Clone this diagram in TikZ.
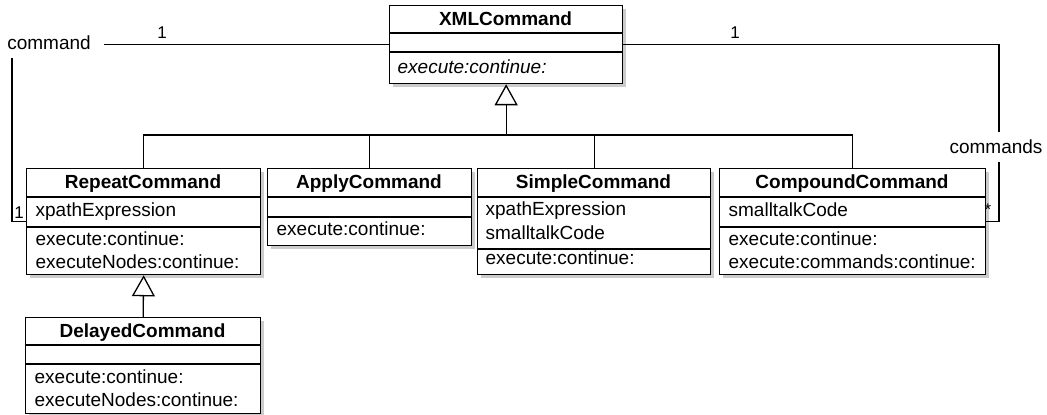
\documentclass[tikz,border=0pt]{standalone}
\usepackage{fontspec}
\setmainfont{Liberation Sans}
\usetikzlibrary{arrows.meta,shadows}

% class box: name, left x, top y, right x, bottom y
\newcommand\umlbox[5]{%
  \node[classbox, minimum width={(#4-#2)*0.5pt}, minimum height={(#5-#3)*0.5pt}]
    (#1) at (#2,#3) {};}
% compartment separator inside a class box at height #2
\newcommand\umlsep[2]{\draw (#1.west |- 0,#2) -- (#1.east |- 0,#2);}

\begin{document}
\begin{tikzpicture}[x=0.5pt, y=-0.5pt, line width=0.65pt,
  font=\fontsize{9.5}{11.5}\selectfont,
  classbox/.style={draw, fill=white, inner sep=0, anchor=north west,
    drop shadow={shadow xshift=1.5pt, shadow yshift=-1.5pt, opacity=0.4}},
  classname/.style={font=\fontsize{9.5}{11.5}\selectfont\bfseries, inner sep=0, anchor=base},
  member/.style={inner sep=0, anchor=mid west},
  mult/.style={inner sep=0, font=\fontsize{8.5}{10}\selectfont},
  role/.style={fill=white, inner sep=0},
  inherit/.style={-{Triangle[open, length=10.5pt, width=11.5pt]}}]

\fill[white] (0,0) rectangle (1047,415);
\useasboundingbox (0,0) rectangle (1047,415);

% ---- classes ----
\umlbox{xml}{389}{5}{622}{83}
\umlsep{xml}{33}\umlsep{xml}{52}
\node[classname] (xmlT) at (505.5,25.5) {XMLCommand};
\node[member] (xmlO1) at (397,68) {\itshape execute:continue:};

\umlbox{rep}{26}{168}{260}{274}
\umlsep{rep}{197}\umlsep{rep}{227}
\node[classname] (repT) at (143,189) {RepeatCommand};
\node[member] (repA1) at (35,211) {xpathExpression};
\node[member] (repO1) at (35,240) {execute:continue:};
\node[member] (repO2) at (35,263) {executeNodes:continue:};

\umlbox{app}{267}{168}{471}{245}
\umlsep{app}{197}\umlsep{app}{217}
\node[classname] (appT) at (369,189) {ApplyCommand};
\node[member] (appO1) at (276,230) {execute:continue:};

\umlbox{sim}{477}{168}{710}{274}
\umlsep{sim}{197}\umlsep{sim}{249}
\node[classname] (simT) at (593.5,189) {SimpleCommand};
\node[member] (simA1) at (485,210) {xpathExpression};
\node[member] (simA2) at (485,234) {smalltalkCode};
\node[member] (simO1) at (485,259) {execute:continue:};

\umlbox{cmp}{719}{168}{985}{274}
\umlsep{cmp}{197}\umlsep{cmp}{227}
\node[classname] (cmpT) at (852,189) {CompoundCommand};
\node[member] (cmpA1) at (728,211) {smalltalkCode};
\node[member] (cmpO1) at (728,240) {execute:continue:};
\node[member] (cmpO2) at (728,263) {execute:commands:continue:};

\umlbox{del}{25}{317}{260}{413}
\umlsep{del}{345}\umlsep{del}{364}
\node[classname] (delT) at (142.5,337.5) {DelayedCommand};
\node[member] (delO1) at (34,378) {execute:continue:};
\node[member] (delO2) at (34,401) {executeNodes:continue:};

% ---- generalizations ----
\coordinate (bus) at (xml.south |- 0,135);
\draw (rep.north) |- (bus) -| (cmp.north);
\draw (app.north) -- (app.north |- bus);
\draw (sim.north) -- (sim.north |- bus);
\draw[inherit] (bus) -- (xml.south);
\draw[inherit] (del.north) -- (rep.south);

% ---- associations ----
\coordinate (lc) at (rep.west -| 12,0);
\coordinate (rc) at (cmp.east -| 999,0);
\draw (xml.west) -| (lc) -- (rep.west);
\draw (xml.east) -| (rc) -- (cmp.east);

\node[role, minimum width=55pt, minimum height=15pt] (cmdL) at (49,43) {command};
\node[role, minimum height=15pt] (cmdsL) at (996,147) {commands};
\node[mult] (m1) at (162,33) {1};
\node[mult] (m2) at (735,33) {1};
\node[mult] (m3) at (19,213) {1};
\node[mult] (m4) at (988,210) {*};
\end{tikzpicture}
\end{document}
